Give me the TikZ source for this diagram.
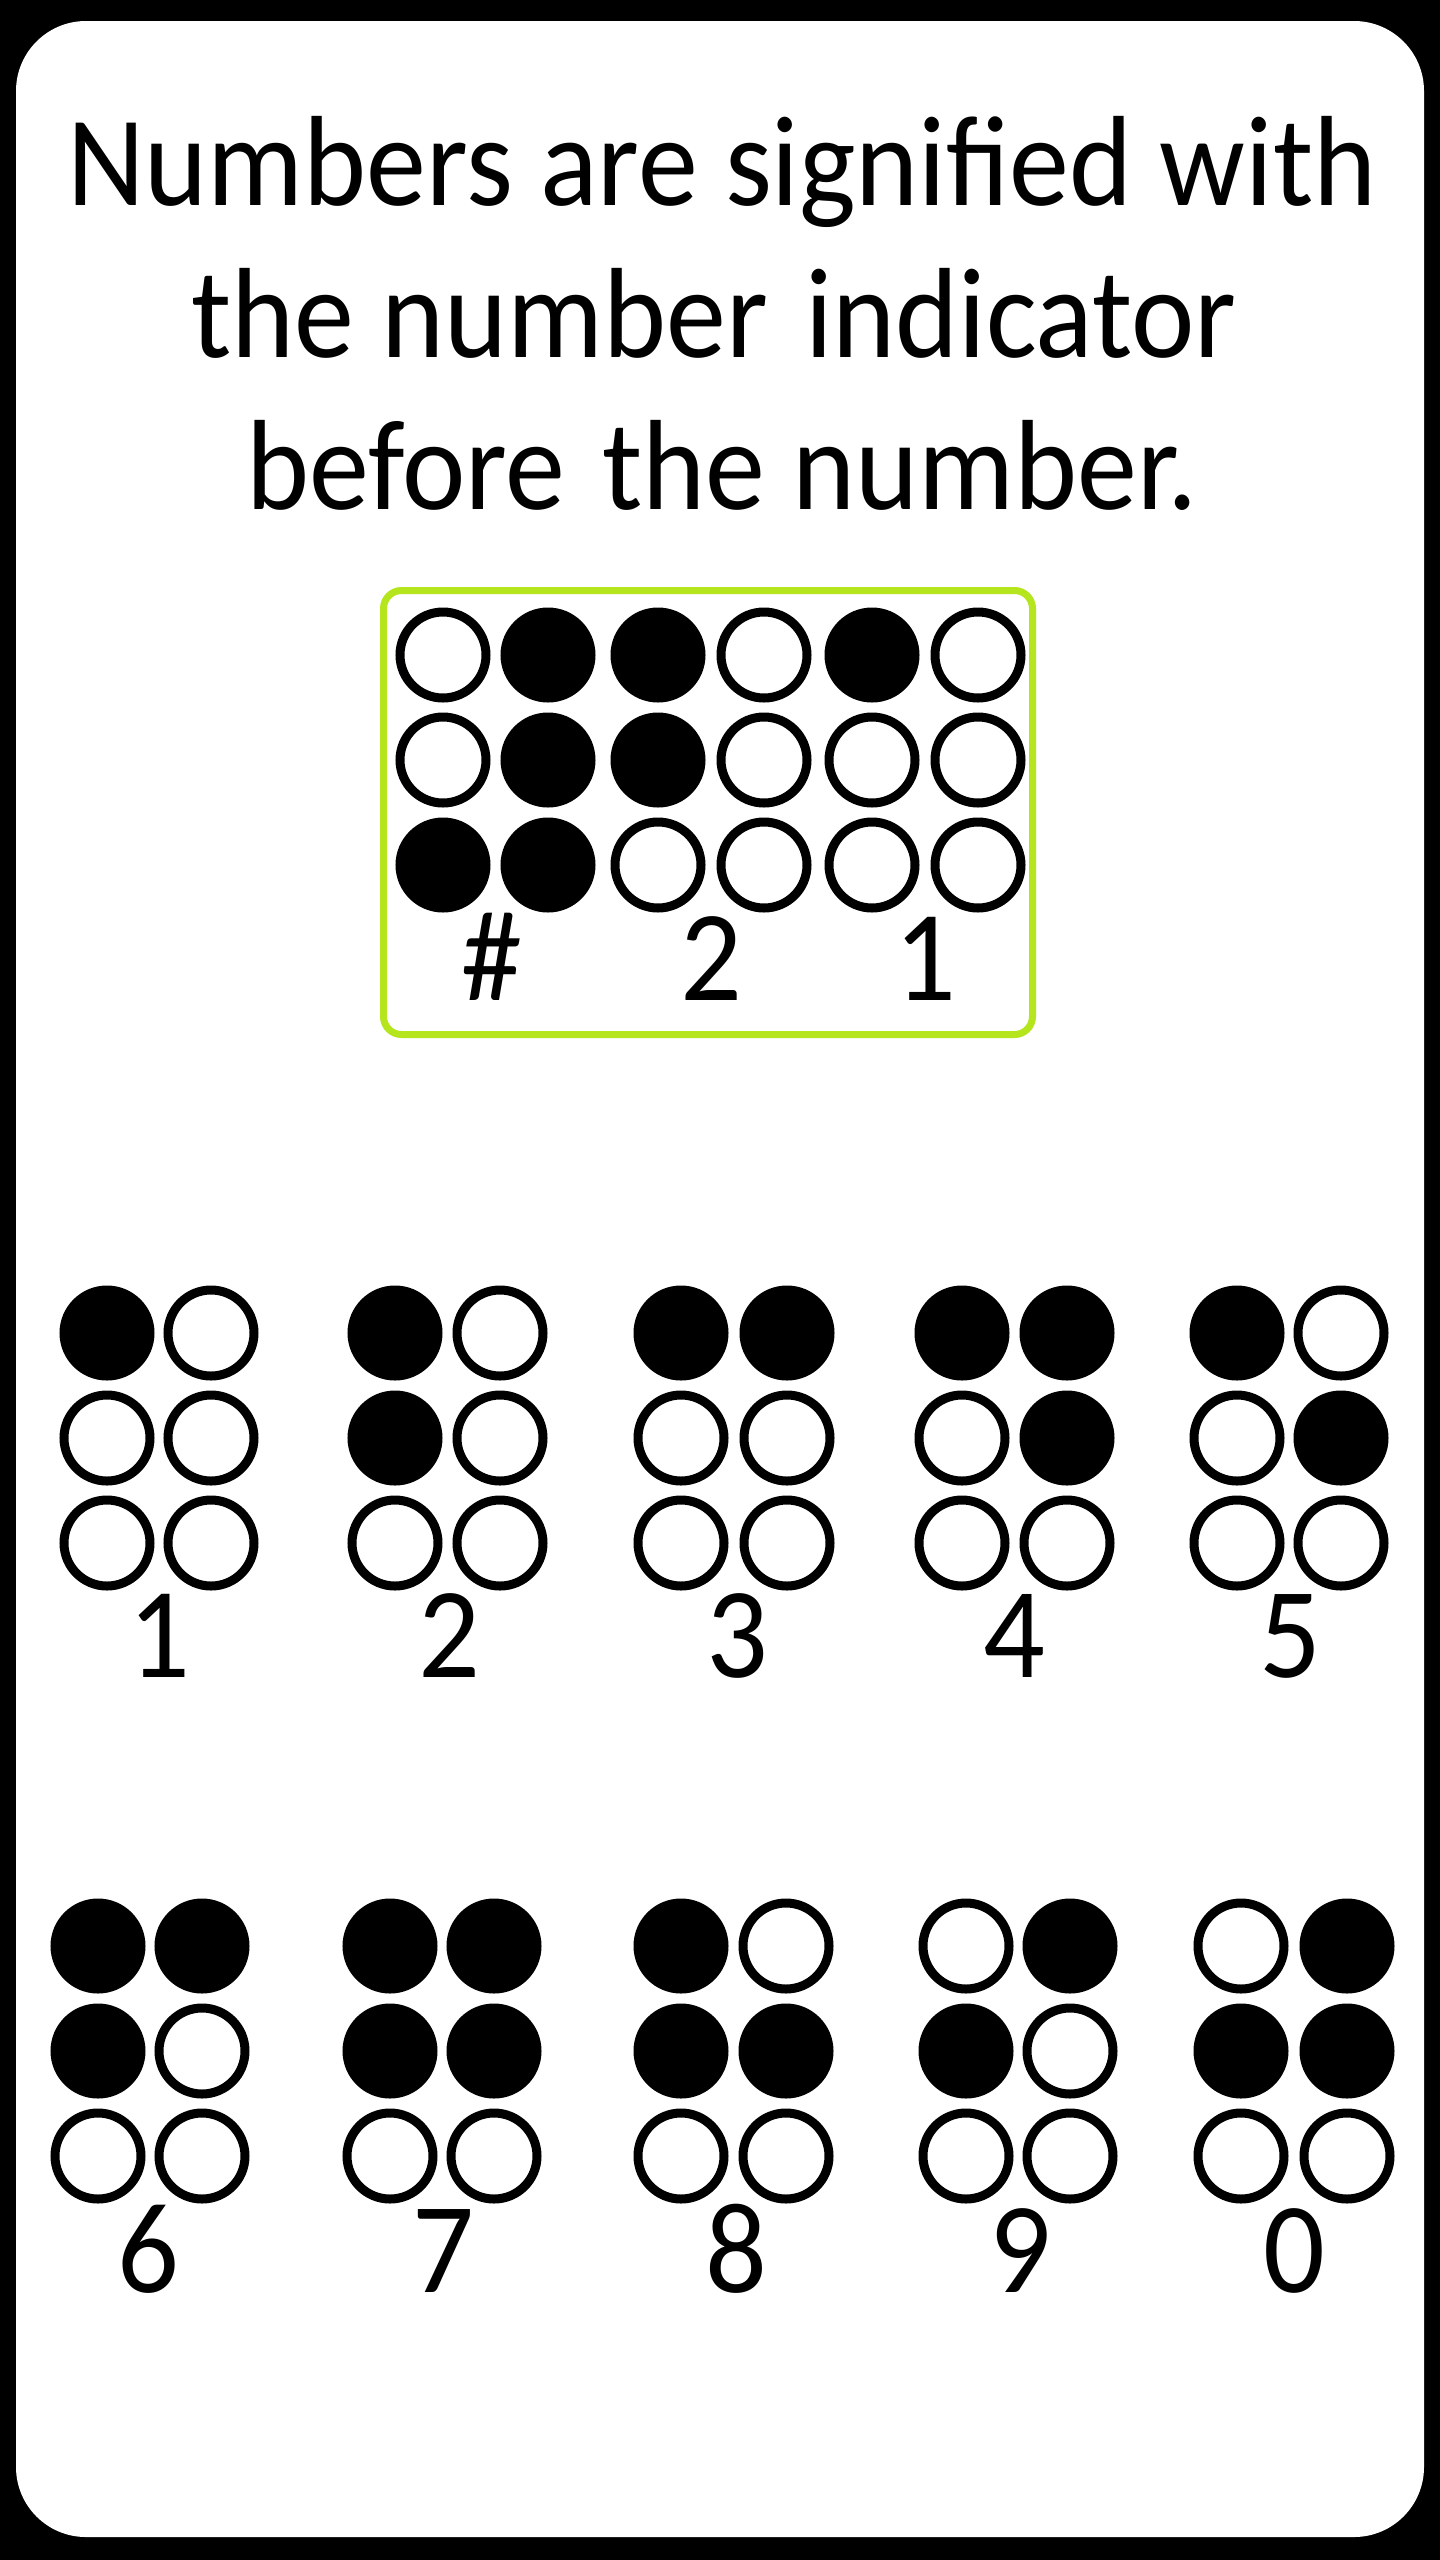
\documentclass[tikz,border=0pt]{standalone}
\usepackage{fontspec}
\setmainfont{Carlito}
\definecolor{limeedge}{RGB}{181,230,29}
\tikzset{
  dopen/.style={circle, draw=black, fill=white, line width=9pt, minimum size=86pt, inner sep=0pt, outer sep=0pt},
  dfill/.style={dopen, fill=black},
  titletext/.style={anchor=base, inner sep=0pt, font=\fontsize{120}{144}\selectfont},
  digit/.style={anchor=base, inner sep=0pt, font=\fontsize{122}{144}\selectfont},
}
\newcommand\tstretch[1]{\scalebox{1}[1.07]{#1}}
\newcommand\dstretch[1]{\scalebox{1}[1.06]{#1}}
\newcommand\brcell[5]{%
  \foreach \s [count=\i from 0] in {#5} {
    \pgfmathtruncatemacro\bcol{int(\i/3)}
    \pgfmathtruncatemacro\brow{mod(\i,3)}
    \pgfmathtruncatemacro\bnum{\i+1}
    \node[\s] (#1-\bnum) at ({#2+\bcol*#3},{#4+\brow*105}) {};
  }}
\begin{document}
\begin{tikzpicture}[x=1pt,y=-1pt]
\useasboundingbox (0,0) rectangle (1440,2560);
\fill[black] (0,0) rectangle (1440,2560);
\fill[white, rounded corners=70pt] (16,21) rectangle (1424,2537);
% title
\node[titletext] (t1) at (722,205) {\tstretch{Numbers are signified with}};
\node[titletext] (t2) at (714,357) {\tstretch{the number\hspace{10pt} indicator}};
\node[titletext] (t3) at (722,509) {\tstretch{before\hspace{10pt} the number.}};
% example box
\draw[limeedge, line width=7pt, rounded corners=18pt] (383.5,590.5) rectangle (1032.5,1034.5);
\brcell{ex1}{443}{105}{655}{dopen,dopen,dfill,dfill,dfill,dfill}
\brcell{ex2}{658}{106}{655}{dfill,dfill,dopen,dopen,dopen,dopen}
\brcell{ex3}{872}{106}{655}{dfill,dopen,dopen,dopen,dopen,dopen}
\node[digit] (lex1) at (492,1000) {\dstretch{\#}};
\node[digit] (lex2) at (711,1000) {\dstretch{2}};
\node[digit] (lex3) at (925,1000) {\dstretch{1}};
% digits 1-5
\brcell{n1}{107}{104}{1333}{dfill,dopen,dopen,dopen,dopen,dopen}
\brcell{n2}{395}{105}{1333}{dfill,dfill,dopen,dopen,dopen,dopen}
\brcell{n3}{681}{106}{1333}{dfill,dopen,dopen,dfill,dopen,dopen}
\brcell{n4}{962}{105}{1333}{dfill,dopen,dopen,dfill,dfill,dopen}
\brcell{n5}{1237}{104}{1333}{dfill,dopen,dopen,dopen,dfill,dopen}
\node[digit] (l1) at (159,1677) {\dstretch{1}};
\node[digit] (l2) at (449,1677) {\dstretch{2}};
\node[digit] (l3) at (737,1677) {\dstretch{3}};
\node[digit] (l4) at (1014,1677) {\dstretch{4}};
\node[digit] (l5) at (1290,1677) {\dstretch{5}};
% digits 6-0
\brcell{n6}{98}{104}{1946}{dfill,dfill,dopen,dfill,dopen,dopen}
\brcell{n7}{390}{104}{1946}{dfill,dfill,dopen,dfill,dfill,dopen}
\brcell{n8}{681}{105}{1946}{dfill,dfill,dopen,dopen,dfill,dopen}
\brcell{n9}{966}{104}{1946}{dopen,dfill,dopen,dfill,dopen,dopen}
\brcell{n0}{1241}{106}{1946}{dopen,dfill,dopen,dfill,dfill,dopen}
\node[digit] (l6) at (148,2292) {\dstretch{6}};
\node[digit] (l7) at (443,2292) {\dstretch{7}};
\node[digit] (l8) at (736,2292) {\dstretch{8}};
\node[digit] (l9) at (1020,2292) {\dstretch{9}};
\node[digit] (l0) at (1294,2292) {\dstretch{0}};
\end{tikzpicture}
\end{document}
